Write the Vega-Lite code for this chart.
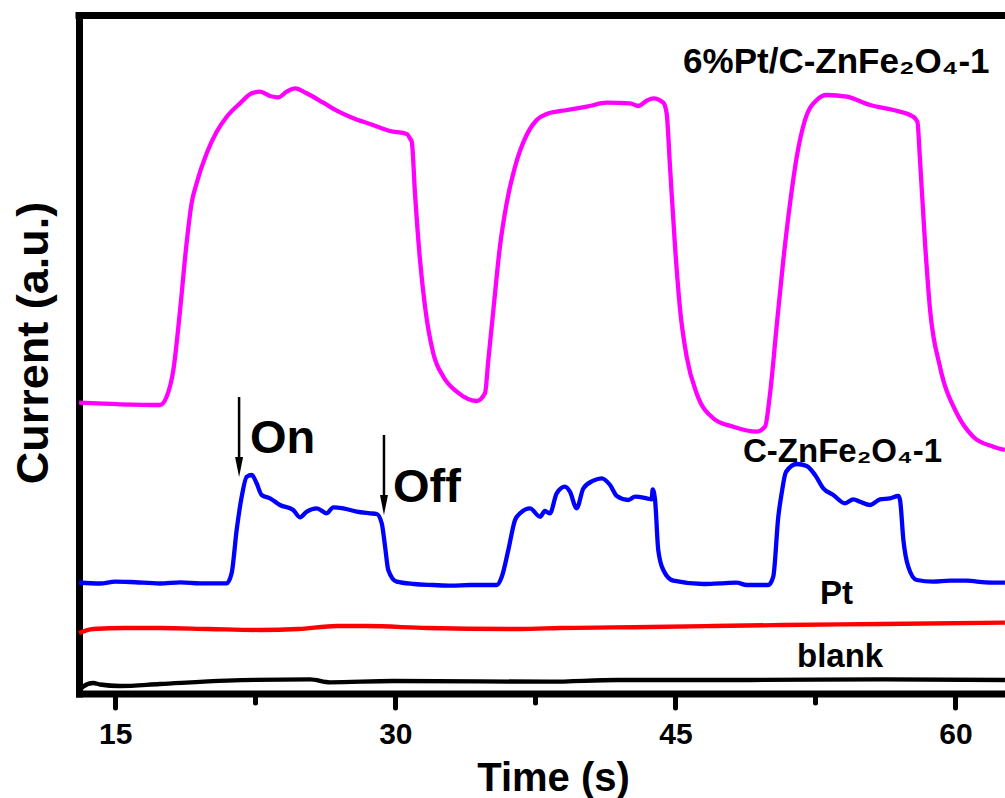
{
  "$schema": "https://vega.github.io/schema/vega-lite/v6.json",
  "width": 926,
  "height": 678,
  "autosize": {"type": "none"},
  "padding": {"left": 79, "top": 15.5, "right": 0, "bottom": 104.5},
  "background": "white",
  "config": {"view": {"stroke": null}, "font": "Liberation Sans"},
  "datasets": {
    "curves": [
      {"s":"6%Pt/C-ZnFe2O4-1","t":13.06,"i":2.908},{"s":"6%Pt/C-ZnFe2O4-1","t":15.25,"i":2.892},{"s":"6%Pt/C-ZnFe2O4-1","t":17.39,"i":2.885},{"s":"6%Pt/C-ZnFe2O4-1","t":17.75,"i":2.968},{"s":"6%Pt/C-ZnFe2O4-1","t":18.11,"i":3.235},{"s":"6%Pt/C-ZnFe2O4-1","t":18.47,"i":3.835},{"s":"6%Pt/C-ZnFe2O4-1","t":18.82,"i":4.505},{"s":"6%Pt/C-ZnFe2O4-1","t":19.09,"i":4.905},{"s":"6%Pt/C-ZnFe2O4-1","t":19.36,"i":5.105},{"s":"6%Pt/C-ZnFe2O4-1","t":19.90,"i":5.405},{"s":"6%Pt/C-ZnFe2O4-1","t":20.43,"i":5.618},{"s":"6%Pt/C-ZnFe2O4-1","t":20.97,"i":5.768},{"s":"6%Pt/C-ZnFe2O4-1","t":21.68,"i":5.902},{"s":"6%Pt/C-ZnFe2O4-1","t":22.31,"i":6.002},{"s":"6%Pt/C-ZnFe2O4-1","t":22.75,"i":6.018},{"s":"6%Pt/C-ZnFe2O4-1","t":23.29,"i":5.975},{"s":"6%Pt/C-ZnFe2O4-1","t":23.73,"i":5.962},{"s":"6%Pt/C-ZnFe2O4-1","t":24.18,"i":6.018},{"s":"6%Pt/C-ZnFe2O4-1","t":24.63,"i":6.052},{"s":"6%Pt/C-ZnFe2O4-1","t":25.25,"i":6.002},{"s":"6%Pt/C-ZnFe2O4-1","t":26.14,"i":5.908},{"s":"6%Pt/C-ZnFe2O4-1","t":26.86,"i":5.828},{"s":"6%Pt/C-ZnFe2O4-1","t":27.75,"i":5.752},{"s":"6%Pt/C-ZnFe2O4-1","t":28.64,"i":5.695},{"s":"6%Pt/C-ZnFe2O4-1","t":29.71,"i":5.625},{"s":"6%Pt/C-ZnFe2O4-1","t":30.61,"i":5.595},{"s":"6%Pt/C-ZnFe2O4-1","t":30.78,"i":5.552},{"s":"6%Pt/C-ZnFe2O4-1","t":30.88,"i":5.518},{"s":"6%Pt/C-ZnFe2O4-1","t":31.05,"i":5.005},{"s":"6%Pt/C-ZnFe2O4-1","t":31.32,"i":4.335},{"s":"6%Pt/C-ZnFe2O4-1","t":31.59,"i":3.868},{"s":"6%Pt/C-ZnFe2O4-1","t":32.03,"i":3.402},{"s":"6%Pt/C-ZnFe2O4-1","t":32.57,"i":3.168},{"s":"6%Pt/C-ZnFe2O4-1","t":33.29,"i":3.018},{"s":"6%Pt/C-ZnFe2O4-1","t":34.36,"i":2.925},{"s":"6%Pt/C-ZnFe2O4-1","t":34.80,"i":3.002},{"s":"6%Pt/C-ZnFe2O4-1","t":34.98,"i":3.335},{"s":"6%Pt/C-ZnFe2O4-1","t":35.25,"i":3.835},{"s":"6%Pt/C-ZnFe2O4-1","t":35.60,"i":4.468},{"s":"6%Pt/C-ZnFe2O4-1","t":35.96,"i":4.902},{"s":"6%Pt/C-ZnFe2O4-1","t":36.41,"i":5.268},{"s":"6%Pt/C-ZnFe2O4-1","t":37.03,"i":5.585},{"s":"6%Pt/C-ZnFe2O4-1","t":37.57,"i":5.735},{"s":"6%Pt/C-ZnFe2O4-1","t":38.11,"i":5.795},{"s":"6%Pt/C-ZnFe2O4-1","t":39.18,"i":5.835},{"s":"6%Pt/C-ZnFe2O4-1","t":40.25,"i":5.868},{"s":"6%Pt/C-ZnFe2O4-1","t":41.32,"i":5.908},{"s":"6%Pt/C-ZnFe2O4-1","t":42.57,"i":5.902},{"s":"6%Pt/C-ZnFe2O4-1","t":43.01,"i":5.875},{"s":"6%Pt/C-ZnFe2O4-1","t":43.46,"i":5.928},{"s":"6%Pt/C-ZnFe2O4-1","t":43.82,"i":5.952},{"s":"6%Pt/C-ZnFe2O4-1","t":44.35,"i":5.908},{"s":"6%Pt/C-ZnFe2O4-1","t":44.53,"i":5.802},{"s":"6%Pt/C-ZnFe2O4-1","t":44.71,"i":5.268},{"s":"6%Pt/C-ZnFe2O4-1","t":44.98,"i":4.468},{"s":"6%Pt/C-ZnFe2O4-1","t":45.25,"i":3.84},{"s":"6%Pt/C-ZnFe2O4-1","t":45.60,"i":3.37},{"s":"6%Pt/C-ZnFe2O4-1","t":46.14,"i":3.0},{"s":"6%Pt/C-ZnFe2O4-1","t":47.03,"i":2.752},{"s":"6%Pt/C-ZnFe2O4-1","t":48.10,"i":2.668},{"s":"6%Pt/C-ZnFe2O4-1","t":49.35,"i":2.618},{"s":"6%Pt/C-ZnFe2O4-1","t":49.80,"i":2.668},{"s":"6%Pt/C-ZnFe2O4-1","t":50.07,"i":3.002},{"s":"6%Pt/C-ZnFe2O4-1","t":50.42,"i":3.668},{"s":"6%Pt/C-ZnFe2O4-1","t":50.78,"i":4.335},{"s":"6%Pt/C-ZnFe2O4-1","t":51.14,"i":4.902},{"s":"6%Pt/C-ZnFe2O4-1","t":51.50,"i":5.368},{"s":"6%Pt/C-ZnFe2O4-1","t":51.94,"i":5.735},{"s":"6%Pt/C-ZnFe2O4-1","t":52.57,"i":5.935},{"s":"6%Pt/C-ZnFe2O4-1","t":53.10,"i":5.985},{"s":"6%Pt/C-ZnFe2O4-1","t":54.17,"i":5.968},{"s":"6%Pt/C-ZnFe2O4-1","t":55.42,"i":5.885},{"s":"6%Pt/C-ZnFe2O4-1","t":56.67,"i":5.835},{"s":"6%Pt/C-ZnFe2O4-1","t":57.74,"i":5.768},{"s":"6%Pt/C-ZnFe2O4-1","t":57.96,"i":5.718},{"s":"6%Pt/C-ZnFe2O4-1","t":58.10,"i":5.335},{"s":"6%Pt/C-ZnFe2O4-1","t":58.37,"i":4.502},{"s":"6%Pt/C-ZnFe2O4-1","t":58.64,"i":3.835},{"s":"6%Pt/C-ZnFe2O4-1","t":59.17,"i":3.268},{"s":"6%Pt/C-ZnFe2O4-1","t":60.07,"i":2.802},{"s":"6%Pt/C-ZnFe2O4-1","t":60.95,"i":2.568},{"s":"6%Pt/C-ZnFe2O4-1","t":62.03,"i":2.468},{"s":"6%Pt/C-ZnFe2O4-1","t":62.65,"i":2.435},
      {"s":"C-ZnFe2O4-1","t":13.06,"i":1.11},{"s":"C-ZnFe2O4-1","t":14.18,"i":1.10},{"s":"C-ZnFe2O4-1","t":15.0,"i":1.118},{"s":"C-ZnFe2O4-1","t":15.79,"i":1.115},{"s":"C-ZnFe2O4-1","t":17.39,"i":1.10},{"s":"C-ZnFe2O4-1","t":18.5,"i":1.112},{"s":"C-ZnFe2O4-1","t":19.54,"i":1.102},{"s":"C-ZnFe2O4-1","t":20.97,"i":1.102},{"s":"C-ZnFe2O4-1","t":21.23,"i":1.202},{"s":"C-ZnFe2O4-1","t":21.50,"i":1.635},{"s":"C-ZnFe2O4-1","t":21.77,"i":1.968},{"s":"C-ZnFe2O4-1","t":22.04,"i":2.168},{"s":"C-ZnFe2O4-1","t":22.31,"i":2.185},{"s":"C-ZnFe2O4-1","t":22.57,"i":2.102},{"s":"C-ZnFe2O4-1","t":22.84,"i":1.985},{"s":"C-ZnFe2O4-1","t":23.29,"i":1.952},{"s":"C-ZnFe2O4-1","t":23.82,"i":1.885},{"s":"C-ZnFe2O4-1","t":24.53,"i":1.835},{"s":"C-ZnFe2O4-1","t":24.89,"i":1.762},{"s":"C-ZnFe2O4-1","t":25.25,"i":1.818},{"s":"C-ZnFe2O4-1","t":25.79,"i":1.852},{"s":"C-ZnFe2O4-1","t":26.32,"i":1.802},{"s":"C-ZnFe2O4-1","t":26.68,"i":1.862},{"s":"C-ZnFe2O4-1","t":27.21,"i":1.852},{"s":"C-ZnFe2O4-1","t":27.93,"i":1.818},{"s":"C-ZnFe2O4-1","t":28.64,"i":1.802},{"s":"C-ZnFe2O4-1","t":29.00,"i":1.795},{"s":"C-ZnFe2O4-1","t":29.27,"i":1.702},{"s":"C-ZnFe2O4-1","t":29.45,"i":1.468},{"s":"C-ZnFe2O4-1","t":29.62,"i":1.235},{"s":"C-ZnFe2O4-1","t":30.07,"i":1.118},{"s":"C-ZnFe2O4-1","t":31.0,"i":1.095},{"s":"C-ZnFe2O4-1","t":32.03,"i":1.085},{"s":"C-ZnFe2O4-1","t":33.0,"i":1.078},{"s":"C-ZnFe2O4-1","t":34.00,"i":1.085},{"s":"C-ZnFe2O4-1","t":35.43,"i":1.085},{"s":"C-ZnFe2O4-1","t":35.70,"i":1.168},{"s":"C-ZnFe2O4-1","t":36.05,"i":1.435},{"s":"C-ZnFe2O4-1","t":36.41,"i":1.735},{"s":"C-ZnFe2O4-1","t":36.68,"i":1.802},{"s":"C-ZnFe2O4-1","t":37.21,"i":1.852},{"s":"C-ZnFe2O4-1","t":37.75,"i":1.768},{"s":"C-ZnFe2O4-1","t":38.01,"i":1.825},{"s":"C-ZnFe2O4-1","t":38.28,"i":1.802},{"s":"C-ZnFe2O4-1","t":38.64,"i":2.002},{"s":"C-ZnFe2O4-1","t":39.09,"i":2.068},{"s":"C-ZnFe2O4-1","t":39.35,"i":2.018},{"s":"C-ZnFe2O4-1","t":39.71,"i":1.852},{"s":"C-ZnFe2O4-1","t":40.07,"i":2.052},{"s":"C-ZnFe2O4-1","t":40.60,"i":2.128},{"s":"C-ZnFe2O4-1","t":41.05,"i":2.152},{"s":"C-ZnFe2O4-1","t":41.50,"i":2.085},{"s":"C-ZnFe2O4-1","t":41.86,"i":1.975},{"s":"C-ZnFe2O4-1","t":42.48,"i":1.935},{"s":"C-ZnFe2O4-1","t":42.84,"i":1.968},{"s":"C-ZnFe2O4-1","t":43.46,"i":1.952},{"s":"C-ZnFe2O4-1","t":43.73,"i":1.942},{"s":"C-ZnFe2O4-1","t":43.78,"i":2.042},{"s":"C-ZnFe2O4-1","t":43.91,"i":1.935},{"s":"C-ZnFe2O4-1","t":44.08,"i":1.435},{"s":"C-ZnFe2O4-1","t":44.35,"i":1.235},{"s":"C-ZnFe2O4-1","t":44.89,"i":1.128},{"s":"C-ZnFe2O4-1","t":46.49,"i":1.095},{"s":"C-ZnFe2O4-1","t":47.4,"i":1.102},{"s":"C-ZnFe2O4-1","t":48.28,"i":1.108},{"s":"C-ZnFe2O4-1","t":48.82,"i":1.085},{"s":"C-ZnFe2O4-1","t":49.98,"i":1.085},{"s":"C-ZnFe2O4-1","t":50.24,"i":1.168},{"s":"C-ZnFe2O4-1","t":50.51,"i":1.768},{"s":"C-ZnFe2O4-1","t":50.69,"i":2.002},{"s":"C-ZnFe2O4-1","t":50.92,"i":2.215},{"s":"C-ZnFe2O4-1","t":51.50,"i":2.295},{"s":"C-ZnFe2O4-1","t":52.03,"i":2.275},{"s":"C-ZnFe2O4-1","t":52.48,"i":2.185},{"s":"C-ZnFe2O4-1","t":52.92,"i":2.052},{"s":"C-ZnFe2O4-1","t":53.46,"i":1.985},{"s":"C-ZnFe2O4-1","t":54.08,"i":1.902},{"s":"C-ZnFe2O4-1","t":54.53,"i":1.942},{"s":"C-ZnFe2O4-1","t":54.89,"i":1.918},{"s":"C-ZnFe2O4-1","t":55.42,"i":1.885},{"s":"C-ZnFe2O4-1","t":55.96,"i":1.942},{"s":"C-ZnFe2O4-1","t":56.49,"i":1.952},{"s":"C-ZnFe2O4-1","t":56.94,"i":1.975},{"s":"C-ZnFe2O4-1","t":57.03,"i":1.935},{"s":"C-ZnFe2O4-1","t":57.21,"i":1.535},{"s":"C-ZnFe2O4-1","t":57.47,"i":1.268},{"s":"C-ZnFe2O4-1","t":57.92,"i":1.135},{"s":"C-ZnFe2O4-1","t":58.81,"i":1.118},{"s":"C-ZnFe2O4-1","t":59.7,"i":1.128},{"s":"C-ZnFe2O4-1","t":60.60,"i":1.128},{"s":"C-ZnFe2O4-1","t":61.6,"i":1.112},{"s":"C-ZnFe2O4-1","t":62.65,"i":1.108},
      {"s":"Pt","t":13.06,"i":0.605},{"s":"Pt","t":13.81,"i":0.645},{"s":"Pt","t":15.5,"i":0.655},{"s":"Pt","t":17.39,"i":0.655},{"s":"Pt","t":20.0,"i":0.645},{"s":"Pt","t":22.75,"i":0.635},{"s":"Pt","t":24.8,"i":0.645},{"s":"Pt","t":26.87,"i":0.675},{"s":"Pt","t":28.48,"i":0.675},{"s":"Pt","t":31.69,"i":0.655},{"s":"Pt","t":36.68,"i":0.645},{"s":"Pt","t":38.82,"i":0.655},{"s":"Pt","t":43.64,"i":0.665},{"s":"Pt","t":47.0,"i":0.675},{"s":"Pt","t":50.76,"i":0.685},{"s":"Pt","t":56.12,"i":0.695},{"s":"Pt","t":62.65,"i":0.708},
      {"s":"blank","t":13.11,"i":0.035},{"s":"blank","t":13.27,"i":0.068},{"s":"blank","t":13.81,"i":0.105},{"s":"blank","t":14.18,"i":0.09},{"s":"blank","t":15.25,"i":0.075},{"s":"blank","t":17.39,"i":0.095},{"s":"blank","t":20.98,"i":0.128},{"s":"blank","t":25.43,"i":0.142},{"s":"blank","t":26.50,"i":0.112},{"s":"blank","t":29.87,"i":0.125},{"s":"blank","t":38.28,"i":0.118},{"s":"blank","t":41.87,"i":0.135},{"s":"blank","t":48.99,"i":0.135},{"s":"blank","t":56.12,"i":0.142},{"s":"blank","t":62.65,"i":0.135}
    ],
    "notes": [
      {"t":45.41,"i":6.205,"label":"6%Pt/C-ZnFe₂O₄-1"},
      {"t":48.62,"i":2.315,"label":"C-ZnFe₂O₄-1"},
      {"t":52.74,"i":0.895,"label":"Pt"},
      {"t":51.51,"i":0.265,"label":"blank"},
      {"t":22.21,"i":2.405,"label":"On"},
      {"t":29.87,"i":1.915,"label":"Off"}
    ],
    "arrows": [
      {"t":21.63,"i":2.965,"head":2.265},
      {"t":29.39,"i":2.585,"head":1.885}
    ],
    "frame": [{"i": 6.78}]
  },
  "encoding": {
    "x": {
      "field": "t", "type": "quantitative",
      "scale": {"domain": [13.056, 62.652], "nice": false, "zero": false},
      "axis": {
        "values": [15, 22.5, 30, 37.5, 45, 52.5, 60],
        "format": "d",
        "labelExpr": "datum.value % 15 === 0 ? datum.label : ''",
        "title": "Time (s)",
        "titleFont": "Liberation Sans", "titleFontSize": 40, "titleFontWeight": "bold", "titleColor": "black",
        "titleX": 474, "titleY": 96.5, "titleAlign": "center", "titleBaseline": "alphabetic",
        "labelFont": "Liberation Sans", "labelFontSize": 30, "labelFontWeight": "bold", "labelColor": "black",
        "labelBaseline": "alphabetic", "labelPadding": 35.5, "labelOverlap": false, "labelFlush": false,
        "domainColor": "black", "domainWidth": 7, "domainCap": "square",
        "tickColor": "black", "tickWidth": 5, "tickCap": "round",
        "tickSize": {"condition": {"test": "datum.value % 15 === 0", "value": 14}, "value": 9},
        "grid": false
      }
    },
    "y": {
      "field": "i", "type": "quantitative",
      "scale": {"domain": [0, 6.78], "nice": false, "zero": false},
      "axis": {
        "title": "Current (a.u.)",
        "ticks": false, "labels": false, "grid": false,
        "domainColor": "black", "domainWidth": 7, "domainCap": "square",
        "titleFont": "Liberation Sans", "titleFontSize": 45, "titleFontWeight": "bold", "titleColor": "black",
        "titleX": -46, "titleY": 327, "titleAngle": -90, "titleAlign": "center", "titleBaseline": "middle"
      }
    }
  },
  "layer": [
    {
      "data": {"name": "curves"},
      "mark": {"type": "line", "strokeWidth": 4.3, "interpolate": "monotone"},
      "encoding": {
        "color": {
          "field": "s", "type": "nominal",
          "scale": {"domain": ["6%Pt/C-ZnFe2O4-1", "C-ZnFe2O4-1", "Pt", "blank"], "range": ["#FF00FF", "#0000FF", "#FF0000", "#000000"]},
          "legend": null
        }
      }
    },
    {
      "data": {"name": "frame"},
      "mark": {"type": "rule", "color": "black", "strokeWidth": 7, "strokeCap": "square"},
      "encoding": {"x": null}
    },
    {
      "data": {"name": "arrows"},
      "mark": {"type": "rule", "color": "black", "strokeWidth": 2.5},
      "encoding": {
        "y2": {"field": "head"}
      }
    },
    {
      "data": {"name": "arrows"},
      "mark": {"type": "point", "shape": "M -0.4 -1 L 0.4 -1 L 0 1 Z", "size": 400, "filled": true, "color": "black", "opacity": 1, "strokeWidth": 0},
      "encoding": {
        "y": {"field": "head", "type": "quantitative"}
      }
    },
    {
      "data": {"name": "notes"},
      "transform": [{"filter": {"field": "label", "oneOf": ["6%Pt/C-ZnFe₂O₄-1"]}}],
      "mark": {"type": "text", "font": "Liberation Sans", "fontSize": 35, "fontWeight": "bold", "align": "left", "baseline": "alphabetic", "color": "black"},
      "encoding": {"text": {"field": "label"}}
    },
    {
      "data": {"name": "notes"},
      "transform": [{"filter": {"field": "label", "oneOf": ["C-ZnFe₂O₄-1", "Pt", "blank"]}}],
      "mark": {"type": "text", "font": "Liberation Sans", "fontSize": 33, "fontWeight": "bold", "align": "left", "baseline": "alphabetic", "color": "black"},
      "encoding": {"text": {"field": "label"}}
    },
    {
      "data": {"name": "notes"},
      "transform": [{"filter": {"field": "label", "oneOf": ["On", "Off"]}}],
      "mark": {"type": "text", "font": "Liberation Sans", "fontSize": 47, "fontWeight": "bold", "align": "left", "baseline": "alphabetic", "color": "black"},
      "encoding": {"text": {"field": "label"}}
    }
  ]
}
